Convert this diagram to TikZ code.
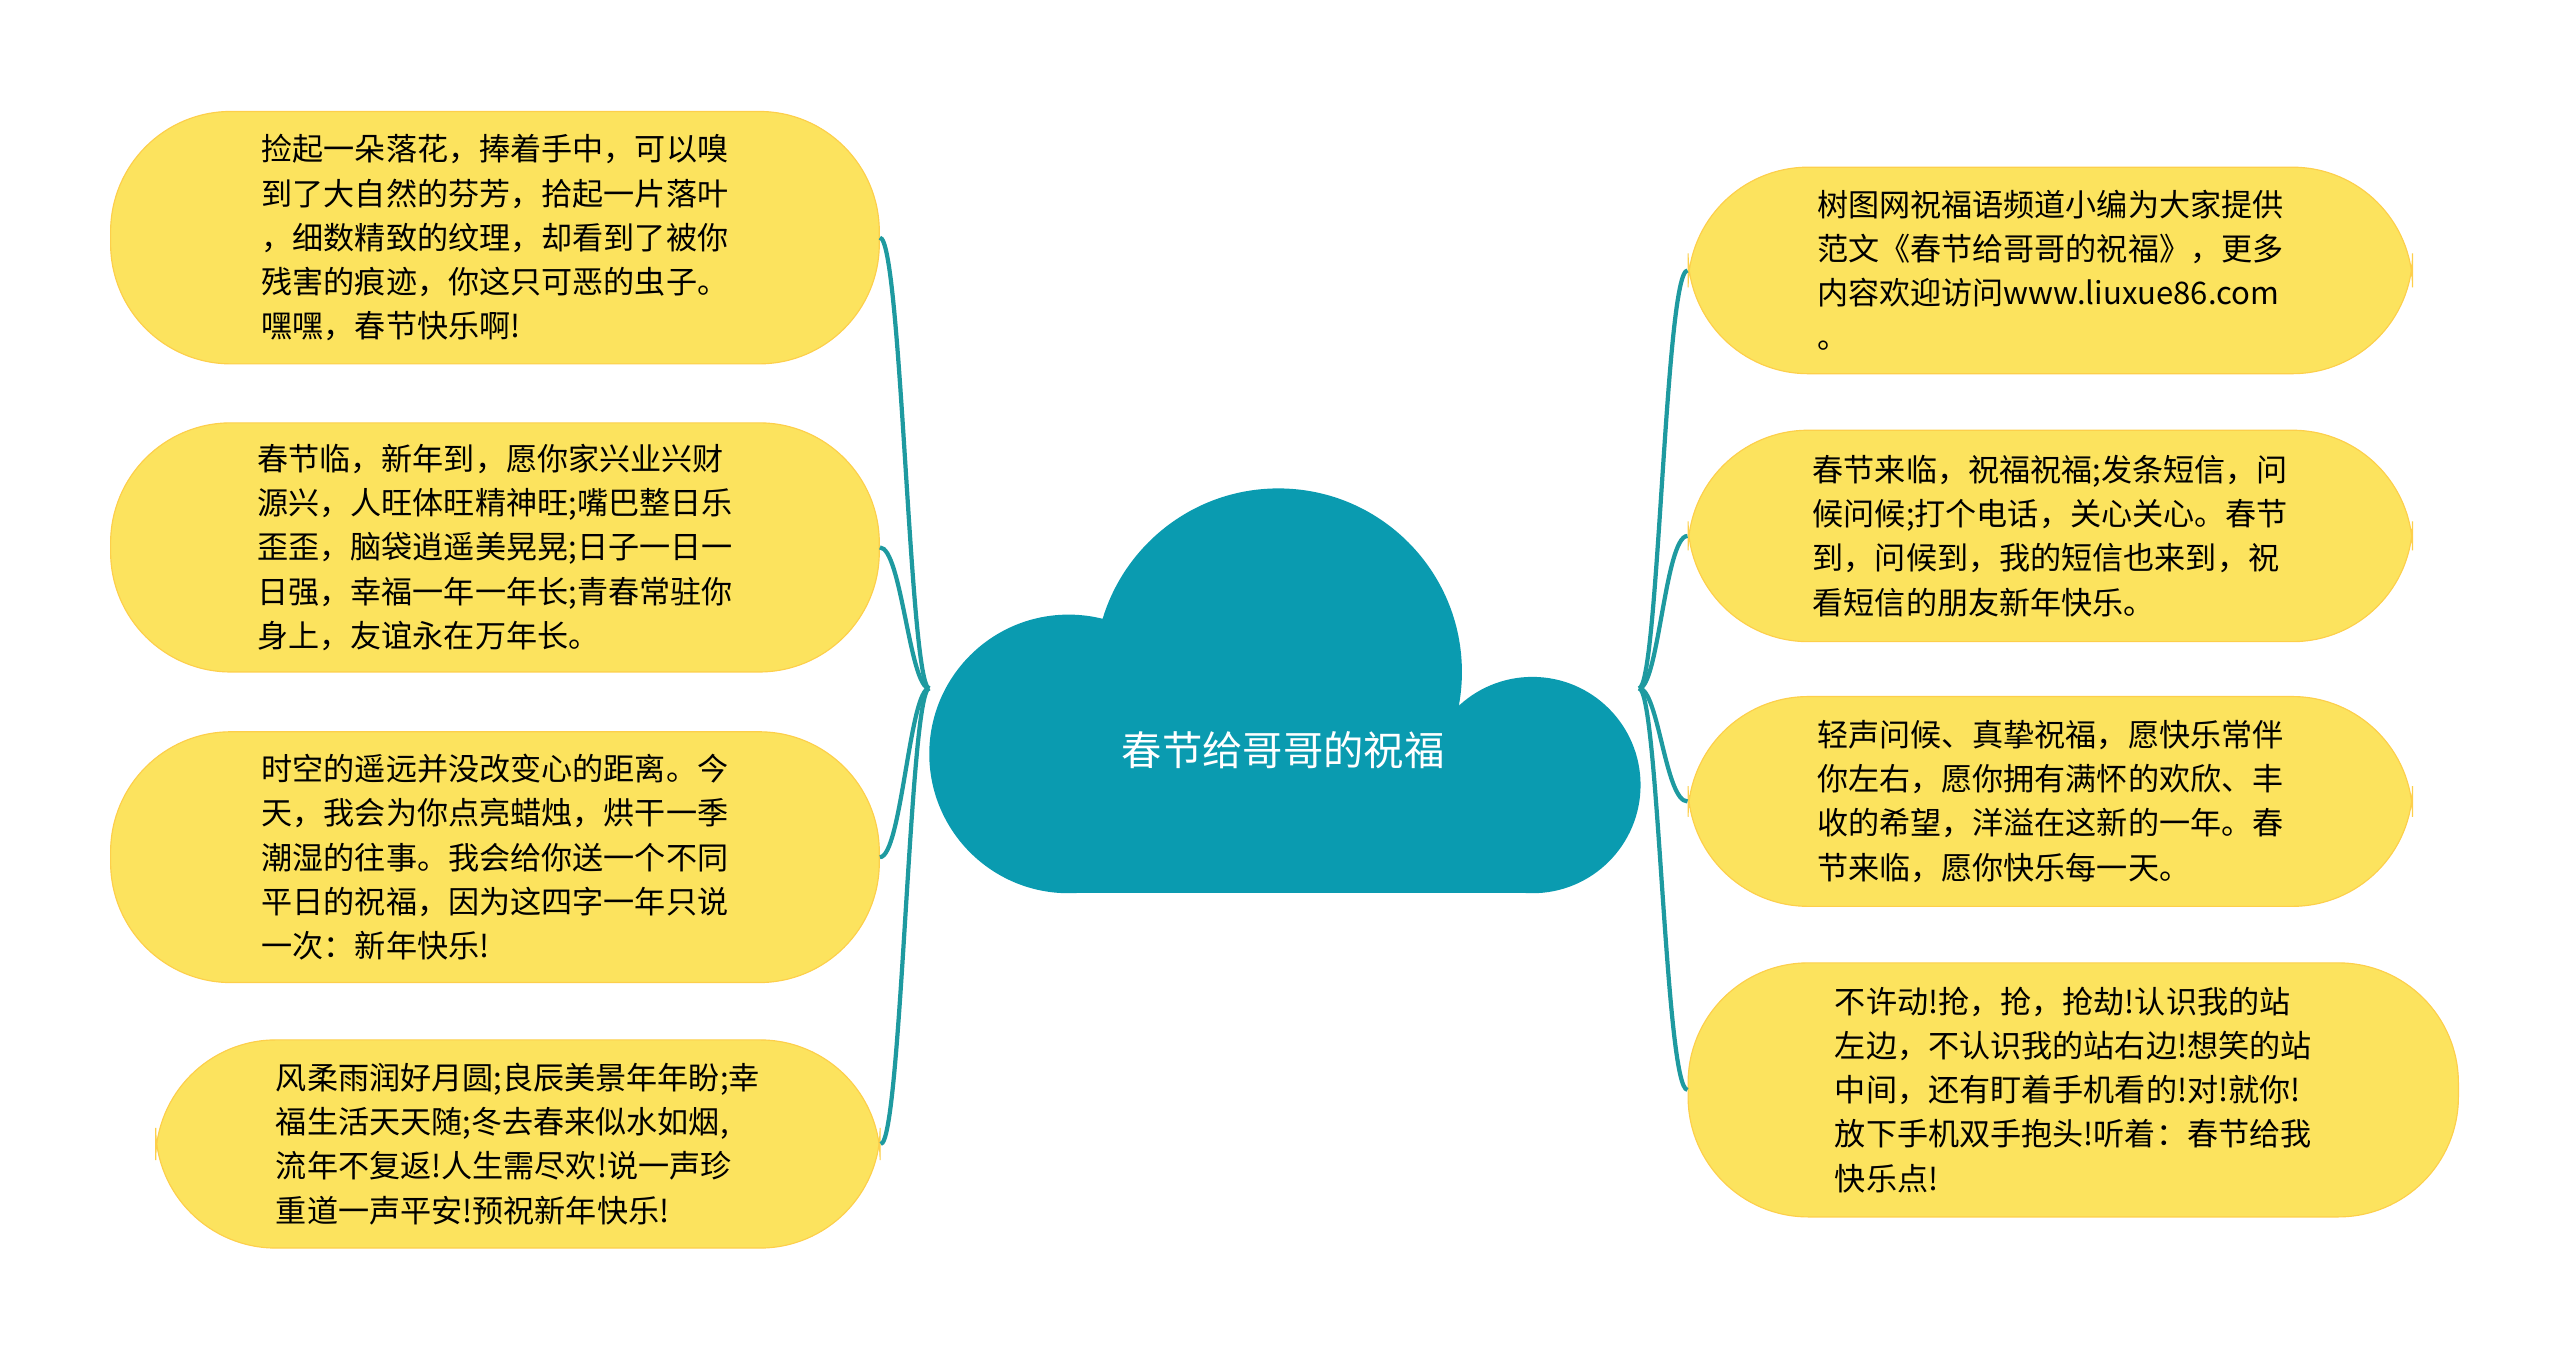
\documentclass[tikz,border=0pt]{standalone}
\usepackage{fontspec}
\setmainfont{Noto Sans CJK SC}
\definecolor{cloudteal}{HTML}{0A9BB0}
\definecolor{pillyellow}{HTML}{FCE35E}
\definecolor{linkteal}{HTML}{1E9AA0}
\begin{document}
\begin{tikzpicture}[
  x=0.03cm, y=-0.03cm,
  pill/.style={rectangle, rounded corners=2.2cm, fill=pillyellow, draw=pillyellow!80!orange, line width=0.6pt, align=left, inner sep=0pt, font=\fontsize{16.2pt}{23pt}\selectfont},
  link/.style={draw=linkteal, line width=2.2pt},
  title/.style={text=white, font=\fontsize{21pt}{26pt}\selectfont}
]
\useasboundingbox (0,0) rectangle (1562,828);

% Cloud
\fill[cloudteal] (652,460) circle (2.55cm) (780,410) circle (3.36cm) (935,479) circle (1.98cm);
\fill[cloudteal] (652,440) rectangle (935,545);
\node[title] (root) at (783,458) {春节给哥哥的祝福};
\coordinate (rootl) at (567,420);
\coordinate (rootr) at (1000,420);

% Left branches
\node[pill, minimum width=14.07cm, minimum height=4.62cm] (l1) at (302,145) {捡起一朵落花，捧着手中，可以嗅\\到了大自然的芬芳，拾起一片落叶\\，细数精致的纹理，却看到了被你\\残害的痕迹，你这只可恶的虫子。\\嘿嘿，春节快乐啊!};
\node[pill, minimum width=14.07cm, minimum height=4.56cm] (l2) at (302,334) {春节临，新年到，愿你家兴业兴财\\源兴，人旺体旺精神旺;嘴巴整日乐\\歪歪，脑袋逍遥美晃晃;日子一日一\\日强，幸福一年一年长;青春常驻你\\身上，友谊永在万年长。};
\node[pill, minimum width=14.07cm, minimum height=4.59cm] (l3) at (302,523) {时空的遥远并没改变心的距离。今\\天，我会为你点亮蜡烛，烘干一季\\潮湿的往事。我会给你送一个不同\\平日的祝福，因为这四字一年只说\\一次：新年快乐!};
\node[pill, minimum width=13.26cm, minimum height=3.81cm] (l4) at (316,698) {风柔雨润好月圆;良辰美景年年盼;幸\\福生活天天随;冬去春来似水如烟,\\流年不复返!人生需尽欢!说一声珍\\重道一声平安!预祝新年快乐!};

% Right branches
\node[pill, minimum width=13.26cm, minimum height=3.78cm] (r1) at (1251,165) {树图网祝福语频道小编为大家提供\\范文《春节给哥哥的祝福》，更多\\内容欢迎访问www.liuxue86.com\\。};
\node[pill, minimum width=13.26cm, minimum height=3.87cm] (r2) at (1251,327) {春节来临，祝福祝福;发条短信，问\\候问候;打个电话，关心关心。春节\\到，问候到，我的短信也来到，祝\\看短信的朋友新年快乐。};
\node[pill, minimum width=13.26cm, minimum height=3.84cm] (r3) at (1251,489) {轻声问候、真挚祝福，愿快乐常伴\\你左右，愿你拥有满怀的欢欣、丰\\收的希望，洋溢在这新的一年。春\\节来临，愿你快乐每一天。};
\node[pill, minimum width=14.1cm, minimum height=4.65cm] (r4) at (1265,665) {不许动!抢，抢，抢劫!认识我的站\\左边，不认识我的站右边!想笑的站\\中间，还有盯着手机看的!对!就你!\\放下手机双手抱头!听着：春节给我\\快乐点!};

% Links
\foreach \n in {l1,l2,l3,l4}
  \draw[link] (rootl) .. controls (555,420) and (550,0|-\n.east) .. (\n.east);
\foreach \n in {r1,r2,r3,r4}
  \draw[link] (rootr) .. controls (1012,420) and (1016,0|-\n.west) .. (\n.west);
\end{tikzpicture}
\end{document}
